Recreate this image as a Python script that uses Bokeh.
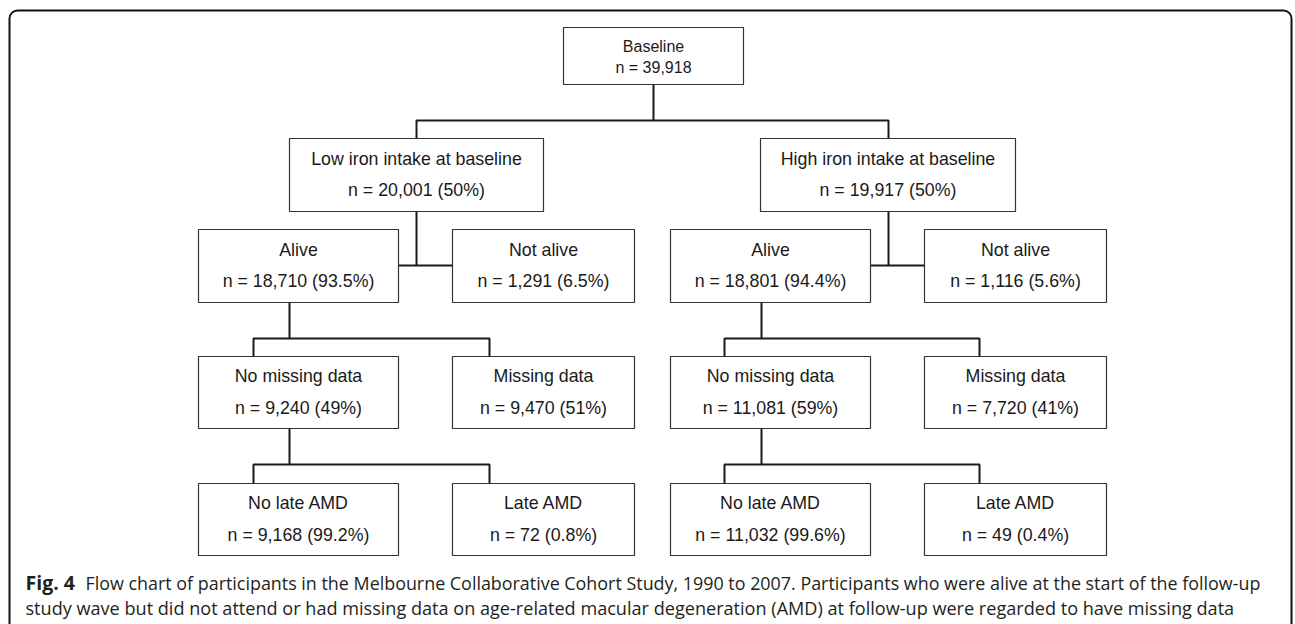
from bokeh.plotting import figure
from bokeh.models import Range1d, BoxAnnotation, ColumnDataSource
from bokeh.core.properties import value
from bokeh.embed import file_html
from bokeh.resources import INLINE

# ---------------- data ----------------
labels = ["Baseline",
          "Low iron intake at baseline", "High iron intake at baseline",
          "Alive", "Not alive", "Alive", "Not alive",
          "No missing data", "Missing data", "No missing data", "Missing data",
          "No late AMD", "Late AMD", "No late AMD", "Late AMD"]
counts = [39918,
          20001, 19917,
          18710, 1291, 18801, 1116,
          9240, 9470, 11081, 7720,
          9168, 72, 11032, 49]
percents = [None,
            "50", "50",
            "93.5", "6.5", "94.4", "5.6",
            "49", "51", "59", "41",
            "99.2", "0.8", "99.6", "0.4"]

caption_bold = "Fig. 4"
caption_line1 = ("Flow chart of participants in the Melbourne Collaborative Cohort Study, "
                 "1990 to 2007. Participants who were alive at the start of the follow-up")
caption_line2 = ("study wave but did not attend or had missing data on age-related macular "
                 "degeneration (AMD) at follow-up were regarded to have missing data")

# ---------------- layout (page pixel coordinates) ----------------
box_left = [563, 289, 760, 198, 452, 670, 924, 198, 452, 670, 924, 198, 452, 670, 924]
box_right = [743, 543, 1015, 398, 634, 870, 1106, 398, 634, 870, 1106, 398, 634, 870, 1106]
box_top = [27, 138, 138, 229, 229, 229, 229, 356, 356, 356, 356, 483, 483, 483, 483]
box_bottom = [84, 211, 211, 302, 302, 302, 302, 428, 428, 428, 428, 555, 555, 555, 555]

conn_xs = [[653, 653], [416, 416, 888, 888],
           [416, 416], [398, 452],
           [888, 888], [870, 924],
           [289, 289], [253, 253, 489, 489],
           [761, 761], [724, 724, 979, 979],
           [289, 289], [253, 253, 489, 489],
           [761, 761], [724, 724, 979, 979]]
conn_ys = [[84, 120], [138, 120, 120, 138],
           [211, 265], [265, 265],
           [211, 265], [265, 265],
           [302, 338], [356, 338, 338, 356],
           [302, 338], [356, 338, 338, 356],
           [428, 464], [483, 464, 464, 483],
           [428, 464], [483, 464, 464, 483]]

W, H = 1295, 624
p = figure(width=W, height=H, output_backend="svg", toolbar_location=None,
           x_range=Range1d(0, W), y_range=Range1d(H, 0),
           min_border=0, tools="")
p.axis.visible = False
p.grid.visible = False
p.outline_line_color = None
p.background_fill_color = "white"
p.border_fill_color = "white"

# outer frame
frame = BoxAnnotation(left=9, right=1291, top=10, bottom=680, border_radius=8,
                      fill_alpha=0, line_color="#111111", line_alpha=1.0, line_width=2)
p.add_layout(frame)

# connectors
p.multi_line(xs=conn_xs, ys=conn_ys, line_color="#1a1a1a", line_width=2)

# boxes
p.quad(left=box_left, right=box_right, top=box_top, bottom=box_bottom,
       fill_color="white", line_color="#333333", line_width=1.2)

# box texts
font = value("Liberation Sans")
cx = [(l + r) / 2 for l, r in zip(box_left, box_right)]
cy = [(t + b) / 2 for t, b in zip(box_top, box_bottom)]
line2 = []
for c, pc in zip(counts, percents):
    s = "n = {:,}".format(c)
    if pc is not None:
        s += " ({}%)".format(pc)
    line2.append(s)

# first box (Baseline) - tighter, smaller
p.text(x=[cx[0]], y=[cy[0] - 9.5], text=[labels[0]], text_align="center",
       text_baseline="middle", text_font=font, text_font_size="16px", text_color="#1a1a1a")
p.text(x=[cx[0]], y=[cy[0] + 11.5], text=[line2[0]], text_align="center",
       text_baseline="middle", text_font=font, text_font_size="16px", text_color="#1a1a1a")

src = ColumnDataSource(dict(x=cx[1:], y1=[y - 16.5 for y in cy[1:]], y2=[y + 15 for y in cy[1:]],
                            t1=labels[1:], t2=line2[1:]))
p.text(x="x", y="y1", text="t1", source=src, text_align="center", text_baseline="middle",
       text_font=font, text_font_size="17.8px", text_color="#1a1a1a")
p.text(x="x", y="y2", text="t2", source=src, text_align="center", text_baseline="middle",
       text_font=font, text_font_size="17.8px", text_color="#1a1a1a")

# caption
cfont = value("Open Sans")
p.text(x=[25], y=[582], text=[caption_bold], text_align="left", text_baseline="middle",
       text_font=cfont, text_font_size="19.5px", text_font_style="bold", text_color="#231f20")
p.text(x=[85], y=[582], text=[caption_line1], text_align="left", text_baseline="middle",
       text_font=cfont, text_font_size="17.9px", text_color="#231f20")
p.text(x=[25], y=[607], text=[caption_line2], text_align="left", text_baseline="middle",
       text_font=cfont, text_font_size="18.1px", text_color="#231f20")

open("out.html", "w").write(file_html(p, INLINE))
